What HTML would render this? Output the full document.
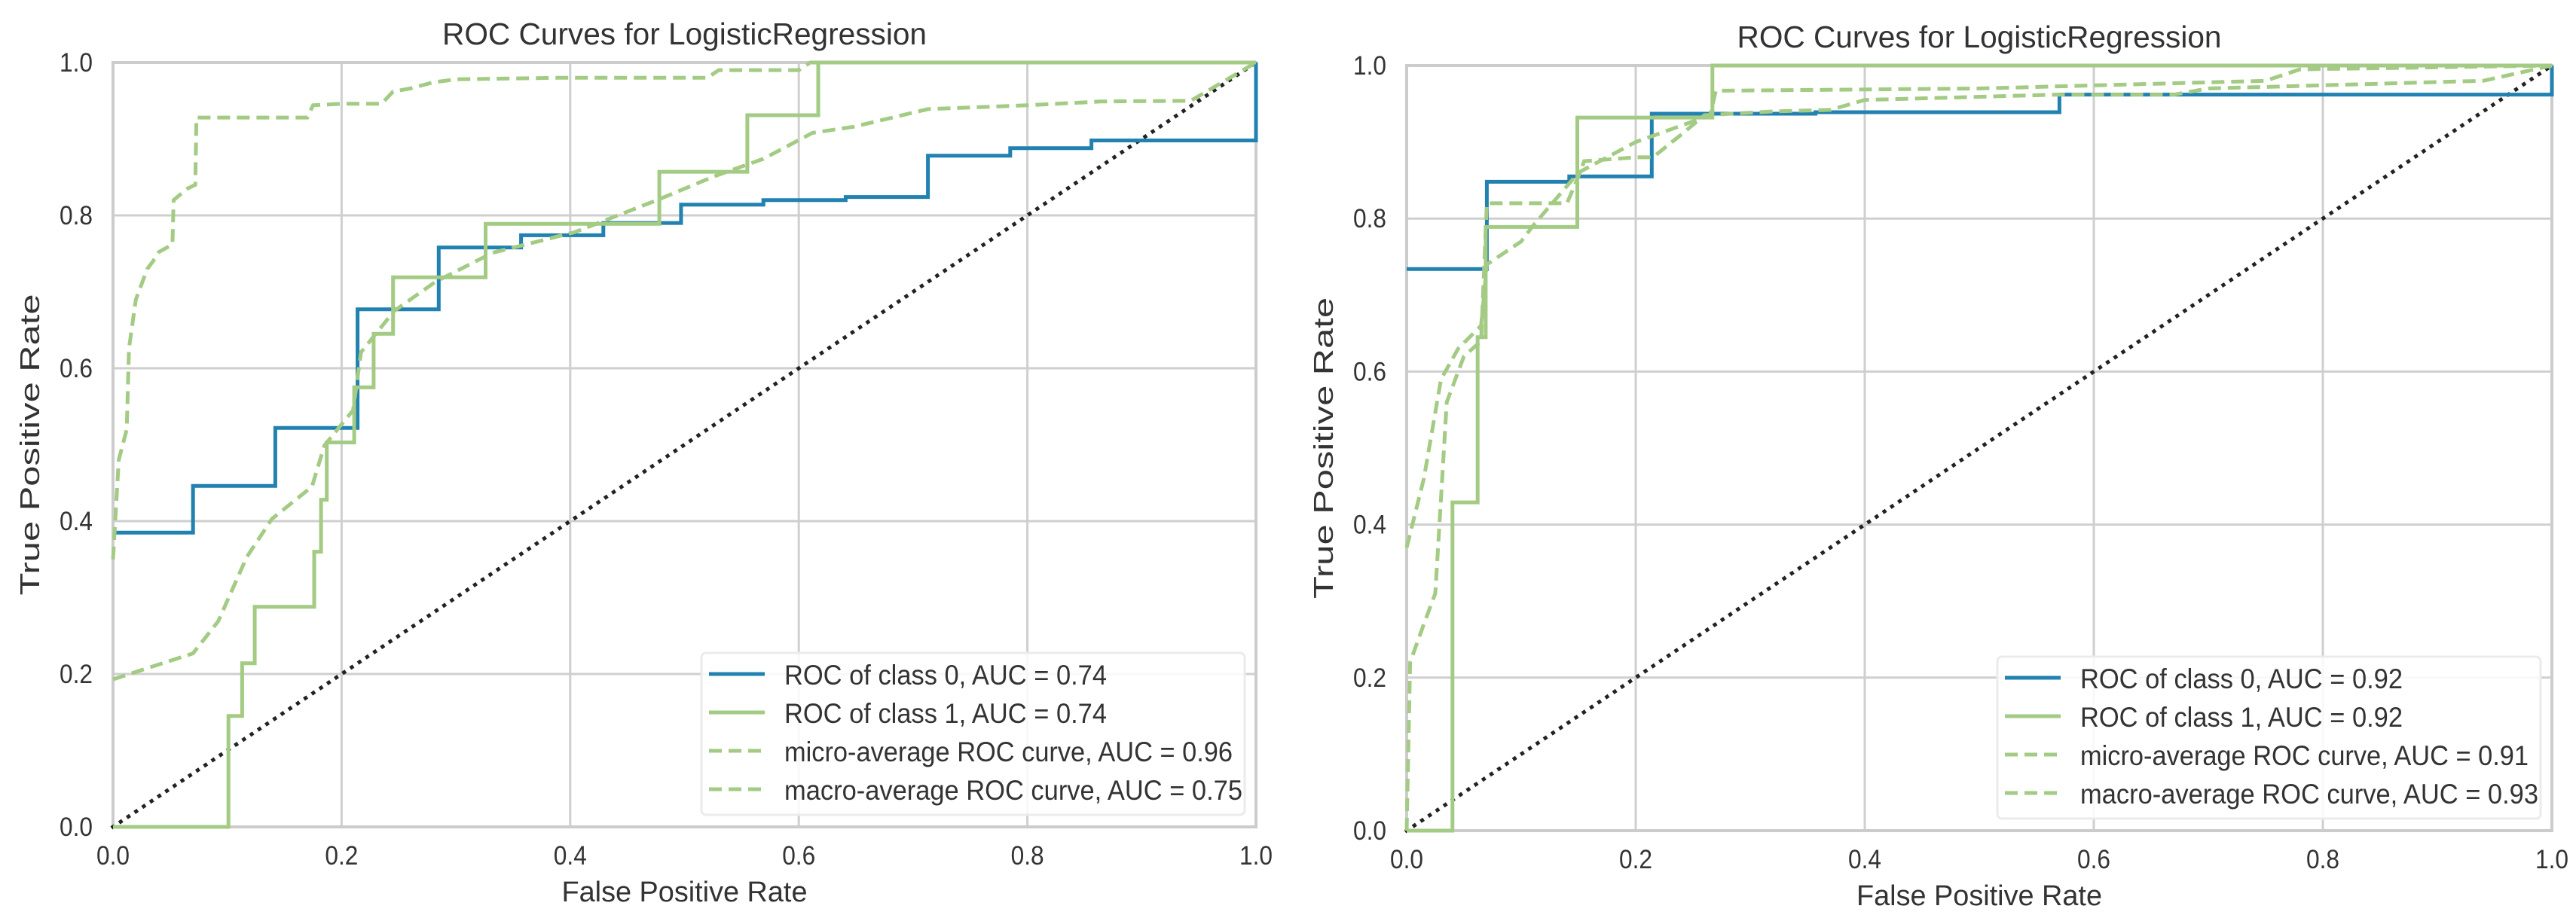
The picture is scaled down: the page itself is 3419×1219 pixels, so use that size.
<!DOCTYPE html>
<html><head><meta charset="utf-8">
<style>
html,body{margin:0;padding:0;background:#fff;}
svg{display:block;}
text{font-family:"Liberation Sans",sans-serif;fill:#333;}
</style></head>
<body>
<svg id="chart" width="3419" height="1219" viewBox="0 0 3419 1219" xmlns="http://www.w3.org/2000/svg"></svg>
<script>
// ---- data (left chart) ----
const ticks = [0, 0.2, 0.4, 0.6, 0.8, 1.0];
const tickLabels = ["0.0", "0.2", "0.4", "0.6", "0.8", "1.0"];
const leftTitle = "ROC Curves for LogisticRegression";
const leftClass0X = [0, 0.07, 0.07, 0.142, 0.142, 0.214, 0.214, 0.285, 0.285, 0.357, 0.357, 0.429, 0.429, 0.497, 0.497, 0.569, 0.569, 0.641, 0.641, 0.713, 0.713, 0.785, 0.785, 0.856, 0.856, 1, 1];
const leftClass0Y = [0.385, 0.385, 0.446, 0.446, 0.522, 0.522, 0.677, 0.677, 0.758, 0.758, 0.774, 0.774, 0.79, 0.79, 0.814, 0.814, 0.82, 0.82, 0.824, 0.824, 0.878, 0.878, 0.888, 0.888, 0.898, 0.898, 1.0];
const leftClass1X = [0, 0.101, 0.101, 0.113, 0.113, 0.124, 0.124, 0.176, 0.176, 0.182, 0.182, 0.187, 0.187, 0.211, 0.211, 0.228, 0.228, 0.245, 0.245, 0.326, 0.326, 0.478, 0.478, 0.555, 0.555, 0.617, 0.617, 1];
const leftClass1Y = [0, 0, 0.145, 0.145, 0.214, 0.214, 0.288, 0.288, 0.36, 0.36, 0.428, 0.428, 0.503, 0.503, 0.575, 0.575, 0.645, 0.645, 0.719, 0.719, 0.789, 0.789, 0.857, 0.857, 0.931, 0.931, 1.0, 1.0];
const leftMicroX = [0, 0.005, 0.012, 0.014, 0.02, 0.025, 0.03, 0.035, 0.04, 0.052, 0.053, 0.065, 0.072, 0.073, 0.17, 0.175, 0.2, 0.235, 0.245, 0.26, 0.28, 0.3, 0.39, 0.52, 0.53, 0.6, 0.61, 0.65];
const leftMicroY = [0.35, 0.48, 0.52, 0.626, 0.69, 0.71, 0.73, 0.74, 0.752, 0.762, 0.82, 0.835, 0.84, 0.928, 0.928, 0.944, 0.946, 0.946, 0.962, 0.966, 0.974, 0.978, 0.98, 0.98, 0.99, 0.99, 1.0, 1.0];
const leftMacroX = [0, 0.07, 0.092, 0.117, 0.139, 0.174, 0.185, 0.21, 0.217, 0.246, 0.282, 0.332, 0.404, 0.476, 0.526, 0.569, 0.612, 0.648, 0.713, 0.8, 0.864, 0.943, 1.0];
const leftMacroY = [0.193, 0.227, 0.269, 0.353, 0.403, 0.445, 0.499, 0.545, 0.621, 0.675, 0.713, 0.751, 0.778, 0.82, 0.851, 0.874, 0.908, 0.916, 0.939, 0.944, 0.949, 0.95, 1.0];
const leftLegend = ["ROC of class 0, AUC = 0.74", "ROC of class 1, AUC = 0.74", "micro-average ROC curve, AUC = 0.96", "macro-average ROC curve, AUC = 0.75"];
// ---- data (right chart) ----
const rightTitle = "ROC Curves for LogisticRegression";
const rightClass0X = [0, 0.07, 0.07, 0.142, 0.142, 0.214, 0.214, 0.357, 0.357, 0.57, 0.57, 1, 1];
const rightClass0Y = [0.734, 0.734, 0.848, 0.848, 0.855, 0.855, 0.937, 0.937, 0.939, 0.939, 0.962, 0.962, 1.0];
const rightClass1X = [0, 0.04, 0.04, 0.062, 0.062, 0.069, 0.069, 0.149, 0.149, 0.267, 0.267, 1];
const rightClass1Y = [0, 0, 0.429, 0.429, 0.645, 0.645, 0.789, 0.789, 0.932, 0.932, 1.0, 1.0];
const rightMicroX = [0, 0.003, 0.015, 0.025, 0.035, 0.05, 0.065, 0.07, 0.14, 0.15, 0.155, 0.2, 0.215, 0.24, 0.26, 0.32, 0.37, 0.4, 0.57, 0.67, 0.7, 0.94, 1.0];
const rightMicroY = [0, 0.22, 0.27, 0.31, 0.56, 0.62, 0.64, 0.82, 0.82, 0.855, 0.875, 0.88, 0.88, 0.91, 0.935, 0.94, 0.942, 0.955, 0.962, 0.962, 0.97, 0.98, 1.0];
const rightMacroX = [0, 0.015, 0.03, 0.045, 0.065, 0.07, 0.1, 0.11, 0.15, 0.2, 0.265, 0.27, 0.5, 0.75, 0.78, 1.0];
const rightMacroY = [0.37, 0.46, 0.59, 0.63, 0.66, 0.74, 0.77, 0.79, 0.86, 0.9, 0.935, 0.967, 0.97, 0.98, 0.995, 1.0];
const rightLegend = ["ROC of class 0, AUC = 0.92", "ROC of class 1, AUC = 0.92", "micro-average ROC curve, AUC = 0.91", "macro-average ROC curve, AUC = 0.93"];

const NS = "http://www.w3.org/2000/svg";
const svg = document.getElementById('chart');
const BLUE = "#2181b0", GREEN = "#a3cb84";
const legendWidths = [428, 428, 595, 608];

function mk(tag, attrs, parent) {
  const e = document.createElementNS(NS, tag);
  for (const k in attrs) e.setAttribute(k, attrs[k]);
  parent.appendChild(e);
  return e;
}

function drawPlot(prefix, L, R, T, B, title, series, legendLabels, legendLeft) {
  const g = mk('g', {}, svg);
  
  
  const sx = v => L + v * (R - L);
  const sy = v => B - v * (B - T);
  // grid
  ticks.forEach((t, i) => {
    const gx = mk('line', {x1: sx(t), x2: sx(t), y1: T, y2: B, stroke: '#cfcfcf', 'stroke-width': 3}, g);
    
    
    const gy = mk('line', {x1: L, x2: R, y1: sy(t), y2: sy(t), stroke: '#cfcfcf', 'stroke-width': 3}, g);
    
    
    const xt = mk('text', {x: sx(t), y: B + 50, 'text-anchor': 'middle', 'font-size': 35, textLength: 44, lengthAdjust: 'spacingAndGlyphs', fill: '#444'}, g);
    xt.textContent = tickLabels[i];
    
    
    const yt = mk('text', {x: L - 27, y: sy(t) + 12, 'text-anchor': 'end', 'font-size': 35, textLength: 44, lengthAdjust: 'spacingAndGlyphs', fill: '#444'}, g);
    yt.textContent = tickLabels[i];
    
    
  });
  // frame
  const fr = mk('rect', {x: L, y: T, width: R - L, height: B - T, fill: 'none', stroke: '#cccccc', 'stroke-width': 4}, g);
  
  
  // diagonal
  const dg = mk('line', {x1: sx(0), y1: sy(0), x2: sx(1), y2: sy(1), stroke: '#222', 'stroke-width': 5, 'stroke-dasharray': '0.1 12.2', 'stroke-linecap': 'square'}, g);
  
  
  // series
  series.forEach(s => {
    const pts = s.x.map((v, i) => sx(v).toFixed(1) + ',' + sy(s.y[i]).toFixed(1)).join(' ');
    const attrs = {points: pts, fill: 'none', stroke: s.color, 'stroke-width': 5, 'stroke-linejoin': 'miter'};
    if (s.dash) attrs['stroke-dasharray'] = '17 9';
    const pl = mk('polyline', attrs, g);
    
    
  });
  // title & labels
  const tt = mk('text', {x: (L + R) / 2, y: T - 24, 'text-anchor': 'middle', 'font-size': 41, textLength: 643, lengthAdjust: 'spacingAndGlyphs', fill: '#222'}, g);
  tt.textContent = title;
  
  
  const xl = mk('text', {x: (L + R) / 2, y: B + 99, 'text-anchor': 'middle', 'font-size': 38, textLength: 326, lengthAdjust: 'spacingAndGlyphs', fill: '#333'}, g);
  xl.textContent = 'False Positive Rate';
  
  
  const yl = mk('text', {x: 0, y: 0, 'text-anchor': 'middle', 'font-size': 36, textLength: 400, lengthAdjust: 'spacingAndGlyphs', fill: '#333', transform: 'translate(' + (L - 98) + ',' + ((T + B) / 2) + ') rotate(-90)'}, g);
  yl.textContent = 'True Positive Rate';
  
  
  // legend
  const lg = mk('g', {}, g);
  
  
  const lb = mk('rect', {x: legendLeft, y: B - 231, width: 721, height: 215, rx: 6, fill: 'rgba(255,255,255,0.85)', stroke: '#ebebeb', 'stroke-width': 3}, lg);
  
  
  legendLabels.forEach((lab, i) => {
    const yy = B - 203 + i * 51;
    const s = series[i];
    const la = {x1: legendLeft + 10, x2: legendLeft + 84, y1: yy, y2: yy, stroke: s.color, 'stroke-width': 5};
    if (s.dash) la['stroke-dasharray'] = '17 9';
    const ln = mk('line', la, lg);
    
    
    const tx = mk('text', {x: legendLeft + 110, y: yy + 14, 'font-size': 37, textLength: legendWidths[i], lengthAdjust: 'spacingAndGlyphs', fill: '#333'}, lg);
    tx.textContent = lab;
    
    
  });
}

drawPlot('left', 150, 1667, 83, 1098, leftTitle, [
  {name: 'class-0-curve', x: leftClass0X, y: leftClass0Y, color: BLUE, dash: false},
  {name: 'class-1-curve', x: leftClass1X, y: leftClass1Y, color: GREEN, dash: false},
  {name: 'micro-average-curve', x: leftMicroX, y: leftMicroY, color: GREEN, dash: true},
  {name: 'macro-average-curve', x: leftMacroX, y: leftMacroY, color: GREEN, dash: true}
], leftLegend, 931);

drawPlot('right', 1867, 3387, 87, 1103, rightTitle, [
  {name: 'class-0-curve', x: rightClass0X, y: rightClass0Y, color: BLUE, dash: false},
  {name: 'class-1-curve', x: rightClass1X, y: rightClass1Y, color: GREEN, dash: false},
  {name: 'micro-average-curve', x: rightMicroX, y: rightMicroY, color: GREEN, dash: true},
  {name: 'macro-average-curve', x: rightMacroX, y: rightMacroY, color: GREEN, dash: true}
], rightLegend, 2651);
</script>
</body></html>
